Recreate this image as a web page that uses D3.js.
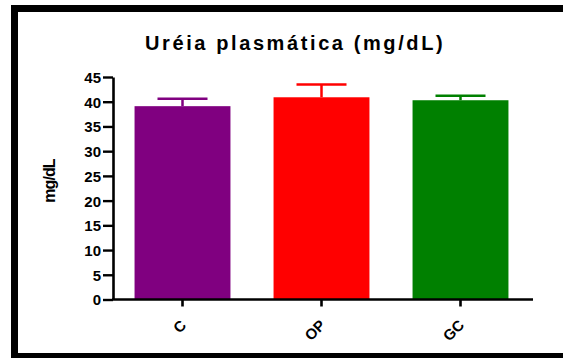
<!DOCTYPE html>
<html>
<head>
<meta charset="utf-8">
<script src="https://cdn.jsdelivr.net/npm/d3@7/dist/d3.min.js"></script>
<style>
  html, body { margin: 0; padding: 0; background: #fff; }
  svg { display: block; }
  text { font-family: "Liberation Sans", Arial, sans-serif; font-weight: bold; fill: #000; }
</style>
</head>
<body>
<script>
// Plasma urea per group (mean and upper SEM)
const groups = ["C", "OP", "GC"];
const means = [39.1, 40.9, 40.3];
const errors = [1.5, 2.6, 0.9];
const colors = ["#800080", "#ff0000", "#008000"];
const yTicks = [0, 5, 10, 15, 20, 25, 30, 35, 40, 45];

const W = 563, H = 358;
const svg = d3.select("body").append("svg").attr("width", W).attr("height", H);

// outer frame (left, top and bottom edges)
svg.append("rect").attr("x", 11).attr("y", 5).attr("width", W).attr("height", 7).attr("fill", "#000");
svg.append("rect").attr("x", 11).attr("y", 5).attr("width", 7).attr("height", H).attr("fill", "#000");
svg.append("rect").attr("x", 11).attr("y", 353).attr("width", W).attr("height", 6).attr("fill", "#000");

const x = d3.scaleBand().domain(groups).range([113, 530]).paddingInner(0.31).paddingOuter(0.155);
const y = d3.scaleLinear().domain([0, 45]).range([299.5, 77]);

// bars
svg.selectAll("rect.bar").data(groups).join("rect")
  .attr("class", "bar")
  .attr("x", d => x(d))
  .attr("width", x.bandwidth())
  .attr("y", (d, i) => y(means[i]))
  .attr("height", (d, i) => y(0) - y(means[i]))
  .attr("fill", (d, i) => colors[i]);

// upper error bars
const capW = 50;
const eb = svg.selectAll("g.err").data(groups).join("g").attr("class", "err");
eb.append("line")
  .attr("x1", d => x(d) + x.bandwidth() / 2).attr("x2", d => x(d) + x.bandwidth() / 2)
  .attr("y1", (d, i) => y(means[i])).attr("y2", (d, i) => y(means[i] + errors[i]))
  .attr("stroke", (d, i) => colors[i]).attr("stroke-width", 2.5);
eb.append("line")
  .attr("x1", d => x(d) + x.bandwidth() / 2 - capW / 2).attr("x2", d => x(d) + x.bandwidth() / 2 + capW / 2)
  .attr("y1", (d, i) => y(means[i] + errors[i])).attr("y2", (d, i) => y(means[i] + errors[i]))
  .attr("stroke", (d, i) => colors[i]).attr("stroke-width", 2.5);

// y axis
const yAxis = svg.append("g").attr("transform", "translate(113,0)")
  .call(d3.axisLeft(y).tickValues(yTicks).tickSize(10).tickSizeOuter(0).tickPadding(2));
yAxis.attr("font-size", 15).attr("font-family", null);
yAxis.select(".domain").attr("stroke-width", 2.6);
yAxis.selectAll(".tick line").attr("stroke-width", 2.4);
yAxis.selectAll(".tick text").attr("fill", "#000").attr("dy", "0.36em");

// x axis
const xAxis = svg.append("g").attr("transform", "translate(0,299.5)")
  .call(d3.axisBottom(x).tickSize(7).tickSizeOuter(0).tickPadding(0));
xAxis.attr("font-size", 15).attr("font-family", null);
xAxis.select(".domain").attr("d", "M112,0H533").attr("stroke-width", 2.6);
xAxis.selectAll(".tick line").attr("stroke-width", 2.6);
xAxis.selectAll(".tick text")
  .attr("fill", "#000")
  .attr("text-anchor", "end").attr("dy", "0.35em")
  .attr("transform", "translate(1,23) rotate(-45)")
  .attr("y", 0).attr("x", 0);

// title
svg.append("text").attr("x", 145).attr("y", 50)
  .attr("font-size", 20).attr("letter-spacing", 2.6)
  .text("Uréia plasmática (mg/dL)");

// y axis label
svg.append("text")
  .attr("transform", "translate(55,181) rotate(-90)")
  .attr("text-anchor", "middle").attr("font-size", 16).attr("letter-spacing", -0.9)
  .text("mg/dL");
</script>
</body>
</html>
